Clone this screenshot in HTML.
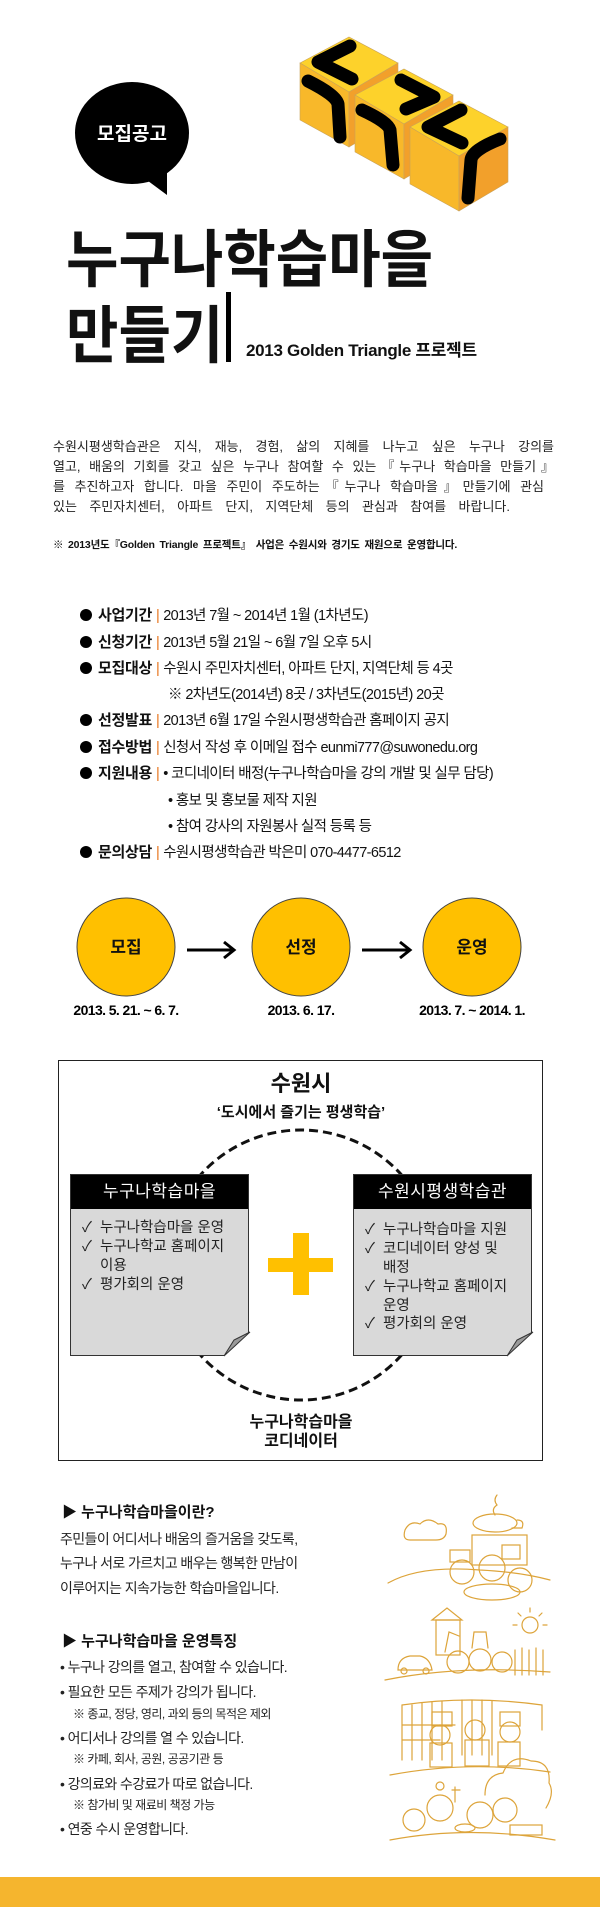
<!DOCTYPE html>
<html><head><meta charset="utf-8"><style>
*{margin:0;padding:0;box-sizing:border-box}
body{width:600px;height:1907px;background:#fff;position:relative;overflow:hidden;font-family:"Liberation Sans","Noto Sans CJK KR",sans-serif;color:#111}
.a{position:absolute;white-space:nowrap}
.pl{position:absolute;left:53px;font-size:13px;line-height:16px;text-align:justify;text-align-last:justify;color:#222;white-space:nowrap}
.row{position:absolute;left:80px;font-size:14.5px;line-height:18px;letter-spacing:-0.6px;white-space:nowrap}
.row b{font-size:15px;letter-spacing:-0.3px}
.row .bar{color:#E8731A;margin:0 4px}
.dot{display:inline-block;width:12px;height:12px;border-radius:50%;background:#000;margin-right:6px;vertical-align:-1px}
.sub{position:absolute;left:168px;font-size:14.5px;line-height:18px;letter-spacing:-0.6px;white-space:nowrap}
.card{position:absolute;background:#d9d9d9;border:1px solid #333}
.card .h{background:#000;color:#fff;height:34px;line-height:34px;text-align:center;font-size:17px;letter-spacing:0.5px}
.it{position:absolute;font-size:14.5px;line-height:18.7px;color:#222}
.bt{position:absolute;left:60px;font-size:14px;line-height:18px;letter-spacing:-0.6px;white-space:nowrap;color:#222}
.nt{position:absolute;left:73px;font-size:12px;line-height:15px;letter-spacing:-0.5px;white-space:nowrap;color:#222}
</style></head><body>

<svg class="a" style="left:0;top:0" width="600" height="430">
 <ellipse cx="132" cy="133" rx="57" ry="51" fill="#000"/>
 <polygon points="140,175 167,170 167,195" fill="#000"/>
 <g stroke="#c9a35a" stroke-width="0.6">
 <polygon points="300,63 349,37 398,63 349,92" fill="#FDD22B"/>
 <polygon points="300,63 349,92 349,147 300,120" fill="#F8B82A"/>
 <polygon points="349,92 398,63 398,118 349,147" fill="#F2A02B"/>
 <polygon points="355,95 404,69 453,95 404,124" fill="#FDD22B"/>
 <polygon points="355,95 404,124 404,179 355,152" fill="#F8B82A"/>
 <polygon points="404,124 453,95 453,150 404,179" fill="#F2A02B"/>
 <polygon points="410,127 459,101 508,127 459,156" fill="#FDD22B"/>
 <polygon points="410,127 459,156 459,211 410,184" fill="#F8B82A"/>
 <polygon points="459,156 508,127 508,182 459,211" fill="#F2A02B"/>
 </g>
 <g fill="none" stroke="#000" stroke-width="13" stroke-linecap="round" stroke-linejoin="round">
  <path d="M350,46 L318,62 L352,79"/>
  <path d="M308,81 Q336,95 338,104 L340,137"/>
  <path d="M401,80 L434,97 L406,109"/>
  <path d="M362,110 Q388,122 390,130 L393,165"/>
  <path d="M461,110 L428,127 L462,143"/>
  <path d="M500,139 Q472,150 471,160 L468,198"/>
 </g>
 <text x="132" y="140" fill="#fff" font-size="19" font-weight="bold" text-anchor="middle" font-family="Liberation Sans,Noto Sans CJK KR,sans-serif">모집공고</text>
</svg>

<div class="a" style="left:66px;top:220px;font-size:57px;font-weight:bold;line-height:74px;transform:scaleY(1.1);transform-origin:0 0">누구나학습마을</div>
<div class="a" style="left:66px;top:296px;font-size:57px;font-weight:bold;line-height:74px;transform:scaleY(1.1);transform-origin:0 0">만들기</div>
<div class="a" style="left:226px;top:292px;width:5px;height:70px;background:#000"></div>
<div class="a" style="left:246px;top:340px;font-size:17px;font-weight:bold;line-height:22px;letter-spacing:-0.3px">2013 Golden Triangle 프로젝트</div>

<div class="pl" style="top:439px;width:501px">수원시평생학습관은 지식, 재능, 경험, 삶의 지혜를 나누고 싶은 누구나 강의를</div>
<div class="pl" style="top:459px;width:501px">열고, 배움의 기회를 갖고 싶은 누구나 참여할 수 있는『누구나 학습마을 만들기』</div>
<div class="pl" style="top:479px;width:491px">를 추진하고자 합니다. 마을 주민이 주도하는『누구나 학습마을』만들기에 관심</div>
<div class="pl" style="top:499px;width:457px">있는 주민자치센터, 아파트 단지, 지역단체 등의 관심과 참여를 바랍니다.</div>
<div class="a" style="left:53px;top:538px;font-size:10.5px;font-weight:bold;line-height:14px;letter-spacing:-0.2px;word-spacing:2px">※ 2013년도『Golden Triangle 프로젝트』 사업은 수원시와 경기도 재원으로 운영합니다.</div>

<div class="row" style="top:607px"><span class="dot"></span><b>사업기간</b><span class="bar">|</span>2013년 7월 ~ 2014년 1월 (1차년도)</div>
<div class="row" style="top:634px"><span class="dot"></span><b>신청기간</b><span class="bar">|</span>2013년 5월 21일 ~ 6월 7일 오후 5시</div>
<div class="row" style="top:660px"><span class="dot"></span><b>모집대상</b><span class="bar">|</span>수원시 주민자치센터, 아파트 단지, 지역단체 등 4곳</div>
<div class="sub" style="top:686px">※ 2차년도(2014년) 8곳 / 3차년도(2015년) 20곳</div>
<div class="row" style="top:712px"><span class="dot"></span><b>선정발표</b><span class="bar">|</span>2013년 6월 17일 수원시평생학습관 홈페이지 공지</div>
<div class="row" style="top:739px"><span class="dot"></span><b>접수방법</b><span class="bar">|</span>신청서 작성 후 이메일 접수 eunmi777@suwonedu.org</div>
<div class="row" style="top:765px"><span class="dot"></span><b>지원내용</b><span class="bar">|</span>• 코디네이터 배정(누구나학습마을 강의 개발 및 실무 담당)</div>
<div class="sub" style="top:792px">• 홍보 및 홍보물 제작 지원</div>
<div class="sub" style="top:818px">• 참여 강사의 자원봉사 실적 등록 등</div>
<div class="row" style="top:844px"><span class="dot"></span><b>문의상담</b><span class="bar">|</span>수원시평생학습관 박은미 070-4477-6512</div>

<svg class="a" style="left:0;top:880px" width="600" height="150">
 <g fill="#FFC000" stroke="#444" stroke-width="1">
  <circle cx="126" cy="67" r="49"/>
  <circle cx="301" cy="67" r="49"/>
  <circle cx="472" cy="67" r="49"/>
 </g>
 <g stroke="#000" stroke-width="3" fill="none">
  <line x1="187" y1="70" x2="233" y2="70"/><path d="M224,62 L234,70 L224,78"/>
  <line x1="362" y1="70" x2="409" y2="70"/><path d="M400,62 L410,70 L400,78"/>
 </g>
 <g font-size="17" font-weight="bold" text-anchor="middle" fill="#111" font-family="Liberation Sans,Noto Sans CJK KR,sans-serif">
  <text x="126" y="73">모집</text><text x="301" y="73">선정</text><text x="472" y="73">운영</text>
 </g>
 <g font-size="14" font-weight="bold" text-anchor="middle" fill="#000" letter-spacing="-0.6" font-family="Liberation Sans,Noto Sans CJK KR,sans-serif">
  <text x="126" y="135">2013. 5. 21. ~ 6. 7.</text><text x="301" y="135">2013. 6. 17.</text><text x="472" y="135">2013. 7. ~ 2014. 1.</text>
 </g>
</svg>

<div class="a" style="left:58px;top:1060px;width:485px;height:401px;border:1px solid #222"></div>
<div class="a" style="left:59px;top:1070px;width:484px;text-align:center;font-size:22px;font-weight:bold;line-height:28px">수원시</div>
<div class="a" style="left:59px;top:1103px;width:484px;text-align:center;font-size:15px;font-weight:bold;line-height:20px">‘도시에서 즐기는 평생학습’</div>
<svg class="a" style="left:0;top:1120px" width="600" height="290">
 <circle cx="301" cy="145" r="135" fill="none" stroke="#111" stroke-width="3" stroke-dasharray="9,5"/>
</svg>

<div class="card" style="left:70px;top:1174px;width:179px;height:182px"><div class="h">누구나학습마을</div></div>
<svg class="a" style="left:222px;top:1330px" width="30" height="28"><polygon points="2,26 28,2 28,26" fill="#fff"/><polygon points="2,26 28,2 12,10" fill="#9a9a9a" stroke="#333" stroke-width="1"/></svg>
<div class="it" style="left:82px;top:1219px">✓</div><div class="it" style="left:100px;top:1219px">누구나학습마을 운영</div>
<div class="it" style="left:82px;top:1238px">✓</div><div class="it" style="left:100px;top:1238px">누구나학교 홈페이지<br>이용</div>
<div class="it" style="left:82px;top:1276px">✓</div><div class="it" style="left:100px;top:1276px">평가회의 운영</div>

<div class="card" style="left:353px;top:1174px;width:179px;height:182px"><div class="h">수원시평생학습관</div></div>
<svg class="a" style="left:505px;top:1330px" width="30" height="28"><polygon points="2,26 28,2 28,26" fill="#fff"/><polygon points="2,26 28,2 12,10" fill="#9a9a9a" stroke="#333" stroke-width="1"/></svg>
<div class="it" style="left:365px;top:1221px">✓</div><div class="it" style="left:383px;top:1221px">누구나학습마을 지원</div>
<div class="it" style="left:365px;top:1240px">✓</div><div class="it" style="left:383px;top:1240px">코디네이터 양성 및<br>배정</div>
<div class="it" style="left:365px;top:1278px">✓</div><div class="it" style="left:383px;top:1278px">누구나학교 홈페이지<br>운영</div>
<div class="it" style="left:365px;top:1315px">✓</div><div class="it" style="left:383px;top:1315px">평가회의 운영</div>

<div class="a" style="left:293px;top:1233px;width:16px;height:62px;background:#FFC000"></div>
<div class="a" style="left:268px;top:1258px;width:65px;height:14px;background:#FFC000"></div>

<div class="a" style="left:59px;top:1413px;width:484px;text-align:center;font-size:16px;font-weight:bold;line-height:19px">누구나학습마을<br>코디네이터</div>

<div class="a" style="left:62px;top:1504px;font-size:15px;font-weight:bold;line-height:18px">▶ 누구나학습마을이란?</div>
<div class="bt" style="top:1530px">주민들이 어디서나 배움의 즐거움을 갖도록,</div>
<div class="bt" style="top:1554px">누구나 서로 가르치고 배우는 행복한 만남이</div>
<div class="bt" style="top:1579px">이루어지는 지속가능한 학습마을입니다.</div>
<div class="a" style="left:62px;top:1633px;font-size:15px;font-weight:bold;line-height:18px">▶ 누구나학습마을 운영특징</div>
<div class="bt" style="top:1658px">• 누구나 강의를 열고, 참여할 수 있습니다.</div>
<div class="bt" style="top:1683px">• 필요한 모든 주제가 강의가 됩니다.</div>
<div class="nt" style="top:1707px">※ 종교, 정당, 영리, 과외 등의 목적은 제외</div>
<div class="bt" style="top:1729px">• 어디서나 강의를 열 수 있습니다.</div>
<div class="nt" style="top:1752px">※ 카페, 회사, 공원, 공공기관 등</div>
<div class="bt" style="top:1775px">• 강의료와 수강료가 따로 없습니다.</div>
<div class="nt" style="top:1798px">※ 참가비 및 재료비 책정 가능</div>
<div class="bt" style="top:1820px">• 연중 수시 운영합니다.</div>

<svg class="a" style="left:380px;top:1490px" width="180" height="365">
 <g fill="none" stroke="#DDA43A" stroke-width="1.2" stroke-linecap="round">
  <path d="M8,93 Q40,75 100,80 Q140,82 170,90"/>
  <path d="M25,40 q5,-10 15,-6 q8,-8 18,0 q10,-2 8,10 q-2,6 -10,6 h-26 q-8,0 -5,-10z"/>
  <ellipse cx="115" cy="33" rx="22" ry="9"/><path d="M115,25 q-4,-6 2,-10 q-4,-5 0,-10"/><path d="M137,30 q8,0 5,8 h-10"/>
  <rect x="92" y="45" width="55" height="30"/><rect x="122" y="55" width="18" height="14"/>
  <circle cx="82" cy="82" r="12"/><circle cx="112" cy="78" r="13"/><circle cx="140" cy="90" r="12"/>
  <rect x="70" y="60" width="20" height="12"/>
  <ellipse cx="112" cy="102" rx="28" ry="8"/>
  <path d="M5,190 Q80,175 170,182"/>
  <path d="M52,130 L67,118 L82,130 Z"/><rect x="56" y="130" width="24" height="35"/>
  <circle cx="150" cy="135" r="8"/><path d="M150,122v-4M163,135h4M137,135h-4M159,126l3,-3M141,126l-3,-3"/>
  <path d="M18,180 q0,-12 12,-14 h10 q10,2 12,14 z"/><circle cx="24" cy="181" r="3"/><circle cx="46" cy="181" r="3"/>
  <circle cx="78" cy="172" r="11"/><circle cx="100" cy="170" r="11"/><circle cx="122" cy="172" r="10"/>
  <path d="M135,160 v25 M142,158 v27 M149,160 v25 M156,158 v27 M163,160 v25"/>
  <path d="M65,162 l4,-20 l10,4 M92,158 l2,-16 h12 l2,16"/>
  <path d="M22,270 V215 Q90,205 162,215 V240"/>
  <path d="M32,270 V215 M42,270 V213 M52,270 V212 M62,270 V211 M82,265 V210 M92,265 V210 M102,265 V210 M112,265 V211"/>
  <path d="M22,235 H75 M22,250 H60"/>
  <circle cx="60" cy="245" r="10"/><circle cx="95" cy="240" r="10"/><circle cx="130" cy="242" r="10"/>
  <rect x="50" y="253" width="22" height="24"/><rect x="85" y="250" width="24" height="26"/><rect x="118" y="252" width="22" height="24"/>
  <rect x="52" y="222" width="20" height="14"/><rect x="120" y="222" width="20" height="14"/>
  <path d="M10,285 Q90,270 170,282"/>
  <path d="M10,350 Q90,335 175,350"/>
  <path d="M105,305 q0,-20 18,-22 q8,-20 28,-12 q20,0 18,22 q6,10 -3,25"/>
  <circle cx="34" cy="330" r="11"/><circle cx="60" cy="318" r="13"/><circle cx="100" cy="325" r="13"/><circle cx="125" cy="320" r="12"/>
  <path d="M75,297 v15 M72,300 h8"/><circle cx="60" cy="296" r="4"/>
  <ellipse cx="85" cy="338" rx="10" ry="4"/><rect x="130" y="335" width="32" height="10"/>
 </g>
</svg>

<div class="a" style="left:0;top:1877px;width:600px;height:30px;background:#F5B52E"></div>
</body></html>
